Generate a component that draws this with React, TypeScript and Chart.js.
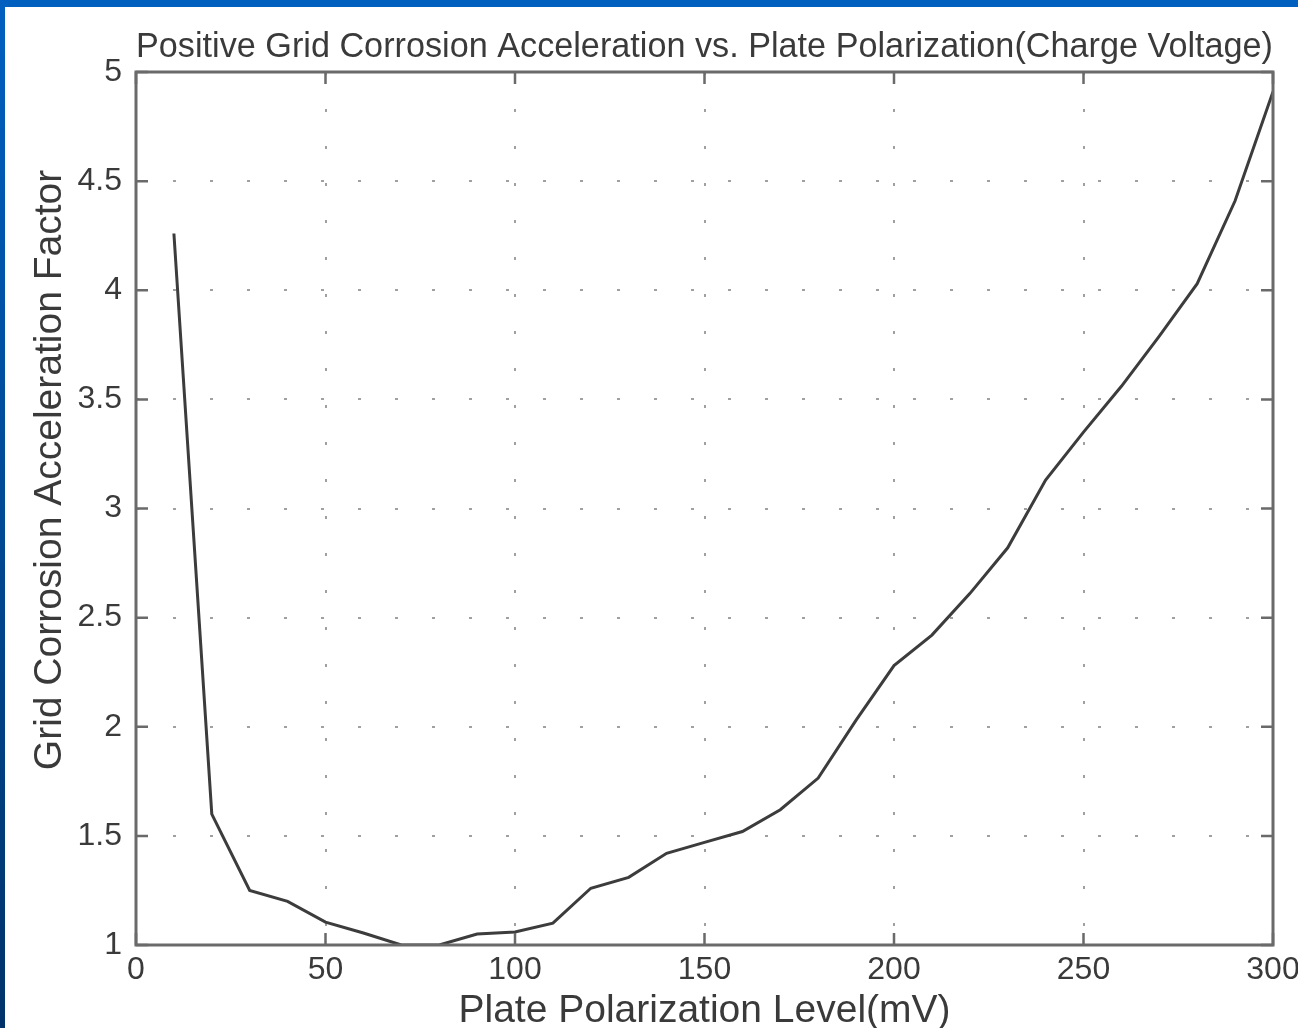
import React, { useEffect, useRef } from "react";
import { Chart, registerables } from "chart.js";

Chart.register(...registerables);

const TITLE = "Positive Grid Corrosion Acceleration vs. Plate Polarization(Charge Voltage)";
const X_TITLE = "Plate Polarization Level(mV)";
const Y_TITLE = "Grid Corrosion Acceleration Factor";

const polarization = [10, 20, 30, 40, 50, 60, 70, 80, 90, 100, 110, 120, 130, 140, 150, 160, 170, 180, 190, 200, 210, 220, 230, 240, 250, 260, 270, 280, 290, 300];
const accelFactor = [4.26, 1.6, 1.25, 1.2, 1.105, 1.055, 1.0, 1.0, 1.05, 1.06, 1.1, 1.26, 1.31, 1.42, 1.47, 1.52, 1.62, 1.765, 2.03, 2.28, 2.42, 2.61, 2.82, 3.13, 3.35, 3.56, 3.79, 4.03, 4.41, 4.91];

const xTickValues = [0, 50, 100, 150, 200, 250, 300];
const yTickValues = [1, 1.5, 2, 2.5, 3, 3.5, 4, 4.5, 5];

const FONT = '"Liberation Sans", Arial, Helvetica, sans-serif';
const TEXT = "#3a3a3a";

export default function App() {
  const ref = useRef<HTMLCanvasElement>(null);

  useEffect(() => {
    document.body.style.margin = "0";
    const canvas = ref.current;
    if (!canvas) return;

    const boxPlugin = {
      id: "matlabBox",
      afterDraw(chart: any) {
        const { ctx, chartArea: a, scales } = chart;
        ctx.save();
        ctx.strokeStyle = "#6a6a6a";
        ctx.lineWidth = 3;
        ctx.strokeRect(a.left, a.top, a.right - a.left, a.bottom - a.top);
        ctx.lineWidth = 2.5;
        ctx.beginPath();
        for (const t of scales.x.ticks) {
          const px = scales.x.getPixelForValue(t.value);
          ctx.moveTo(px, a.bottom);
          ctx.lineTo(px, a.bottom - 12);
          ctx.moveTo(px, a.top);
          ctx.lineTo(px, a.top + 12);
        }
        for (const t of scales.y.ticks) {
          const py = scales.y.getPixelForValue(t.value);
          ctx.moveTo(a.left, py);
          ctx.lineTo(a.left + 12, py);
          ctx.moveTo(a.right, py);
          ctx.lineTo(a.right - 12, py);
        }
        ctx.stroke();
        ctx.translate(50, 470);
        ctx.rotate(-Math.PI / 2);
        ctx.font = `39px ${FONT}`;
        ctx.fillStyle = TEXT;
        ctx.textAlign = "center";
        ctx.textBaseline = "middle";
        ctx.fillText(Y_TITLE, 0, 0);
        ctx.restore();
      },
    };

    const chart = new Chart(canvas, {
      type: "line",
      data: {
        datasets: [
          {
            data: polarization.map((x, i) => ({ x, y: accelFactor[i] })),
            borderColor: "#3c3c3c",
            borderWidth: 3,
            pointRadius: 0,
            tension: 0,
            fill: false,
          },
        ],
      },
      options: {
        responsive: false,
        animation: false,
        layout: { padding: { left: 0, right: 25, top: 0, bottom: 0 } },
        plugins: {
          legend: { display: false },
          tooltip: { enabled: false },
          title: {
            display: true,
            text: TITLE,
            fullSize: false,
            align: "center",
            color: TEXT,
            font: { family: FONT, size: 34.5, weight: "normal" },
            padding: { top: 27, bottom: 3.6 },
          },
        },
        scales: {
          x: {
            type: "linear",
            min: 0,
            max: 300,
            afterBuildTicks: (s: any) => {
              s.ticks = xTickValues.map((v) => ({ value: v }));
            },
            afterFit: (s: any) => {
              s.height = 83;
              s.paddingLeft = 0;
              s.paddingRight = 0;
            },
            ticks: {
              color: TEXT,
              font: { family: FONT, size: 32 },
              padding: 6,
              maxRotation: 0,
              callback: (v: any) => String(v),
            },
            grid: {
              color: "#a0a0a0",
              lineWidth: 2,
              drawTicks: false,
            },
            border: { display: false, dash: [3, 34] },
            title: {
              display: true,
              text: X_TITLE,
              color: TEXT,
              font: { family: FONT, size: 39, lineHeight: 0.8 },
              padding: { top: 0, bottom: 1 },
            },
          },
          y: {
            type: "linear",
            min: 1,
            max: 5,
            afterBuildTicks: (s: any) => {
              s.ticks = yTickValues.map((v) => ({ value: v }));
            },
            afterFit: (s: any) => {
              s.width = 136;
              s.paddingTop = 0;
              s.paddingBottom = 0;
            },
            ticks: {
              color: TEXT,
              font: { family: FONT, size: 32 },
              padding: 14,
              callback: (v: any) => String(v),
            },
            grid: {
              color: "#a0a0a0",
              lineWidth: 2,
              drawTicks: false,
            },
            border: { display: false, dash: [3, 34] },
          },
        },
      },
      plugins: [boxPlugin],
    });

    return () => chart.destroy();
  }, []);

  return (
    <div style={{ position: "absolute", left: 0, top: 0, width: 1298, height: 1028, background: "#ffffff", overflow: "hidden" }}>
      <canvas ref={ref} width={1298} height={1028} style={{ display: "block" }} />
      <div style={{ position: "absolute", left: 0, top: 0, width: 1298, height: 7, background: "#0060c0" }} />
      <div style={{ position: "absolute", left: 0, top: 0, width: 5, height: 1028, background: "linear-gradient(#0060c0, #00336a)" }} />
    </div>
  );
}
